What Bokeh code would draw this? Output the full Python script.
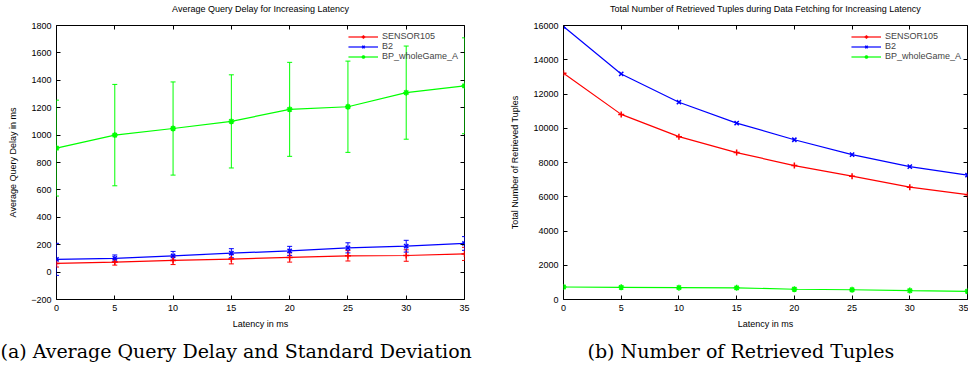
from bokeh.plotting import figure
from bokeh.layouts import row
from bokeh.models import (Range1d, SingleIntervalTicker, LinearAxis, Whisker, ColumnDataSource,
                          TeeHead, Legend, LegendItem, Title, CustomJSTickFormatter)
from bokeh.embed import file_html
from bokeh.resources import INLINE

# ---- data ----
latency = [0, 5, 10, 15, 20, 25, 30, 35]
series_names = ["SENSOR105", "B2", "BP_wholeGame_A"]

delay_sensor105 = [63, 73, 85, 95, 107, 119, 121, 133]
std_sensor105 = [26, 22, 30, 35, 34, 38, 42, 48]
delay_b2 = [93, 100, 119, 138, 155, 177, 189, 209]
std_b2 = [117, 25, 32, 33, 33, 37, 43, 50]
delay_bp = [905, 1000, 1048, 1100, 1188, 1207, 1310, 1360]
std_bp = [350, 370, 340, 340, 343, 333, 340, 350]

tuples_sensor105 = [13210, 10810, 9510, 8580, 7820, 7200, 6560, 6120]
tuples_b2 = [15940, 13170, 11520, 10300, 9330, 8460, 7760, 7260]
tuples_bp = [730, 710, 690, 680, 600, 570, 520, 480]

# ---- styles ----
FONT = "Liberation Sans"
SERIF = "DejaVu Serif"
colors = ["#ff0000", "#0000ff", "#00ff00"]
markers = ["cross", "x", "asterisk"]


def mirror_axis():
    ax = LinearAxis(formatter=CustomJSTickFormatter(code="return ''"),
                    major_label_text_font_size="0px", major_label_standoff=0,
                    major_tick_in=4, major_tick_out=0, minor_tick_in=0, minor_tick_out=0,
                    axis_line_color=None, major_tick_line_color="black")
    return ax


def make_fig(title, ylabel, y0, y1, yint, width, bl, br, caption, cap_offset):
    p = figure(width=width, height=369, output_backend="svg", toolbar_location=None,
               x_range=Range1d(0, 35), y_range=Range1d(y0, y1), title=None,
               min_border_left=bl, min_border_right=br, min_border_top=24,
               min_border_bottom=70)
    p.title = None
    p.xaxis.axis_label = "Latency in ms"
    p.yaxis.axis_label = ylabel
    p.xaxis.ticker = SingleIntervalTicker(interval=5, num_minor_ticks=0)
    p.yaxis.ticker = SingleIntervalTicker(interval=yint, num_minor_ticks=0)
    for ax in [p.xaxis[0], p.yaxis[0]]:
        ax.major_tick_in = 4
        ax.major_tick_out = 0
        ax.minor_tick_line_color = None
        ax.axis_line_color = None
        ax.major_tick_line_color = "black"
        ax.major_label_text_font = FONT
        ax.major_label_text_font_size = "9px"
        ax.major_label_text_color = "black"
        ax.axis_label_text_font = FONT
        ax.axis_label_text_font_size = "9px"
        ax.axis_label_text_font_style = "normal"
        ax.axis_label_text_color = "black"
    p.xaxis.major_label_standoff = 5
    p.yaxis.major_label_standoff = 5
    p.yaxis.axis_label_standoff = 10
    p.xaxis.axis_label_standoff = 5
    p.grid.visible = False
    p.outline_line_color = "black"
    p.outline_line_alpha = 1
    p.outline_line_width = 1
    ra = mirror_axis()
    ra.ticker = SingleIntervalTicker(interval=yint, num_minor_ticks=0)
    p.add_layout(ra, "right")
    ta = mirror_axis()
    ta.ticker = SingleIntervalTicker(interval=5, num_minor_ticks=0)
    # blank axis label used only as vertical spacing between frame and title
    ta.axis_label = " "
    ta.axis_label_text_font_size = "5px"
    ta.axis_label_standoff = 2
    ta.axis_label_text_color = None
    p.add_layout(ta, "above")
    ttl = Title(text=title, align="center", text_font=FONT, text_font_size="9px",
                text_font_style="normal", text_color="black", standoff=2)
    p.add_layout(ttl, "above")
    cap = Title(text=caption, align="left", text_font=SERIF, text_font_size="19px",
                text_font_style="normal", text_color="black", offset=cap_offset, standoff=12)
    p.add_layout(cap, "below")
    return p


def style_legend(p, items):
    leg = Legend(items=items, location="top_right", background_fill_alpha=0,
                 border_line_color=None, label_text_font=FONT, label_text_font_size="9px",
                 glyph_width=30, glyph_height=9, label_height=9, spacing=0, padding=0,
                 margin=6, label_standoff=4)
    p.add_layout(leg)


# ---- left: average query delay ----
p1 = make_fig("Average Query Delay for Increasing Latency", "Average Query Delay in ms",
              -200, 1800, 200, 484, 56, 20,
              "(a) Average Query Delay and Standard Deviation", -56)
items1 = []
for name, vals, stds, c, m in zip(series_names, [delay_sensor105, delay_b2, delay_bp],
                                  [std_sensor105, std_b2, std_bp], colors, markers):
    src = ColumnDataSource(dict(x=latency, y=vals,
                                lo=[v - s for v, s in zip(vals, stds)],
                                hi=[v + s for v, s in zip(vals, stds)]))
    w = Whisker(source=src, base="x", lower="lo", upper="hi", line_color=c, line_width=1,
                upper_head=TeeHead(size=5, line_color=c, line_width=1),
                lower_head=TeeHead(size=5, line_color=c, line_width=1))
    p1.add_layout(w)
    ln = p1.line("x", "y", source=src, line_color=c, line_width=1.2)
    sc = p1.scatter("x", "y", source=src, marker=m, size=6, line_color=c, fill_color=c,
                    line_width=1.5)
    items1.append(LegendItem(label=name, renderers=[ln, sc]))
style_legend(p1, items1)

# ---- right: retrieved tuples ----
p2 = make_fig("Total Number of Retrieved Tuples during Data Fetching for Increasing Latency",
              "Total Number of Retrieved Tuples", 0, 16000, 2000, 484, 79, 1,
              "(b) Number of Retrieved Tuples", 24)
items2 = []
for name, vals, c, m in zip(series_names, [tuples_sensor105, tuples_b2, tuples_bp],
                            colors, markers):
    src = ColumnDataSource(dict(x=latency, y=vals))
    ln = p2.line("x", "y", source=src, line_color=c, line_width=1.2)
    sc = p2.scatter("x", "y", source=src, marker=m, size=6, line_color=c, fill_color=c,
                    line_width=1.5)
    items2.append(LegendItem(label=name, renderers=[ln, sc]))
style_legend(p2, items2)

layout = row(p1, p2)
open("out.html", "w").write(file_html(layout, INLINE))
